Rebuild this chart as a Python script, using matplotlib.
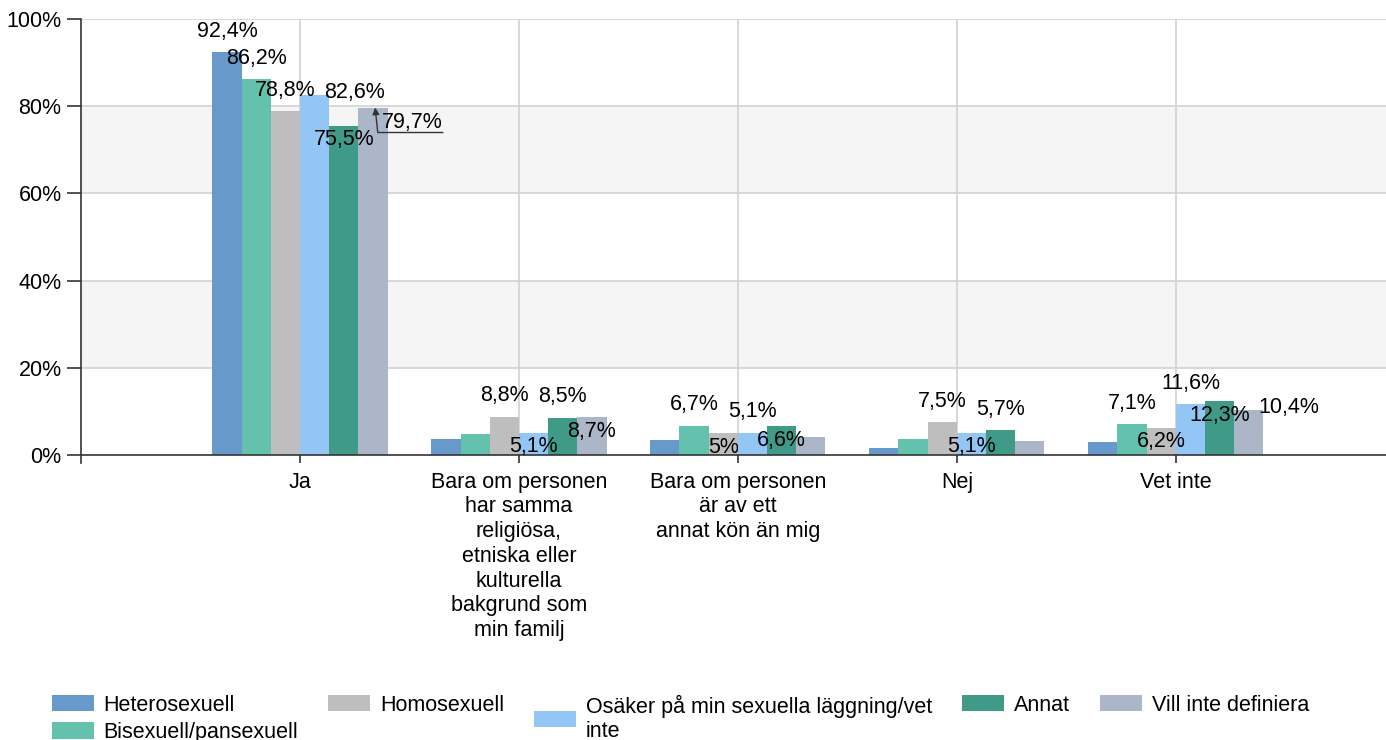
import matplotlib
matplotlib.use("Agg")
import matplotlib.pyplot as plt
import numpy as np
from matplotlib.ticker import FuncFormatter

plt.rcParams['font.family'] = ['Liberation Sans', 'DejaVu Sans']

categories = [
    'Ja',
    'Bara om personen\nhar samma\nreligiösa,\netniska eller\nkulturella\nbakgrund som\nmin familj',
    'Bara om personen\när av ett\nannat kön än mig',
    'Nej',
    'Vet inte',
]
series_names = [
    'Heterosexuell',
    'Bisexuell/pansexuell',
    'Homosexuell',
    'Osäker på min sexuella läggning/vet\ninte',
    'Annat',
    'Vill inte definiera',
]
hetero = [92.4, 3.7, 3.4, 1.6, 3.0]
bisex = [86.2, 4.8, 6.7, 3.6, 7.1]
homo = [78.8, 8.8, 5.0, 7.5, 6.2]
osaker = [82.6, 5.1, 5.1, 5.1, 11.6]
annat = [75.5, 8.5, 6.6, 5.7, 12.3]
vill = [79.7, 8.7, 4.1, 3.2, 10.4]
values = [hetero, bisex, homo, osaker, annat, vill]

colors = ['#6899cb', '#64c1ad', '#bebebe', '#93c6f4', '#409a88', '#abb6c9']

# where each value label goes (None = no label)
label_place = [
    ['above', None, None, None, None],
    ['above', None, 'above', None, 'above'],
    ['above', 'above', 'inside', 'above', 'inside'],
    ['right', 'inside', 'above', 'inside', 'above'],
    ['inside', 'above', 'inside', 'above', 'inside'],
    ['leader', 'inside', None, None, 'right'],
]
offsets = {'above': (0, 21), 'inside': (0, -14), 'right': (40, 2)}
FS = 15.5

fig = plt.figure(figsize=(13.86, 7.4), dpi=100)
ax = fig.add_axes([81 / 1386, 1 - 455 / 740, 1 - 81 / 1386, 436 / 740])

x = np.arange(len(categories))
n = len(values)
width = 0.8 / n

# alternating background bands
for lo in (20, 60):
    ax.axhspan(lo, lo + 20, color='#f5f5f5', zorder=0, lw=0)
for yv in (20, 40, 60, 80, 100):
    ax.axhline(yv, color='#d2d2d2', lw=1.2, zorder=1)
for xv in x:
    ax.axvline(xv, color='#d2d2d2', lw=1.2, zorder=1)

def fmt(v):
    return f"{v:g}".replace('.', ',') + '%'

for i, (vals, col) in enumerate(zip(values, colors)):
    pos = x + (i - (n - 1) / 2) * width
    ax.bar(pos, vals, width, color=col, label=series_names[i], zorder=2)
    for xp, v, place in zip(pos, vals, label_place[i]):
        if place is None:
            continue
        if place == 'leader':
            ax.annotate(fmt(v), (xp + 0.01, v), xytext=(7, -25), textcoords='offset pixels',
                        ha='left', va='bottom', fontsize=FS, zorder=4,
                        arrowprops=dict(arrowstyle='-|>', color='#333333', lw=1,
                                        mutation_scale=10, shrinkA=0, shrinkB=0,
                                        patchA=None, relpos=(1, 0),
                                        connectionstyle='angle,angleA=0,angleB=96,rad=0'))
        else:
            ax.annotate(fmt(v), (xp, v), xytext=offsets[place], textcoords='offset pixels',
                        ha='center', va='center', fontsize=FS, zorder=4)

ax.set_xlim(-1.0, 4.96)
ax.set_ylim(0, 100)
ax.set_yticks([0, 20, 40, 60, 80, 100])
ax.yaxis.set_major_formatter(FuncFormatter(lambda v, p: f"{v:.0f}%"))
ax.set_xticks(x)
ax.set_xticklabels(categories, fontsize=FS, linespacing=1.235)
ax.tick_params(axis='y', labelsize=FS, length=10, width=1.2, color='#333333', pad=4)
ax.tick_params(axis='x', length=6, width=1.2, color='#333333', pad=6)

for s in ('top', 'right'):
    ax.spines[s].set_visible(False)
ax.spines['bottom'].set_color('#333333')
ax.spines['bottom'].set_linewidth(1.2)
ax.spines['left'].set_visible(False)
ax.plot([0, 0], [-8 / 436, 1], transform=ax.transAxes, color='#333333', lw=1.2,
        clip_on=False, zorder=5)

leg = fig.legend(loc='upper left', bbox_to_anchor=(43 / 1386, 1 - 686 / 740), ncol=5,
                 frameon=False, fontsize=FS, handlelength=1.95, handleheight=0.8,
                 handletextpad=0.45, columnspacing=1.4, labelspacing=0.3, borderaxespad=0)
for t in leg.get_texts():
    t.set_linespacing(1.2)
# line the columns up along their top edge
leg._legend_handle_box.align = 'top'

fig.savefig('out.png', dpi=100)
